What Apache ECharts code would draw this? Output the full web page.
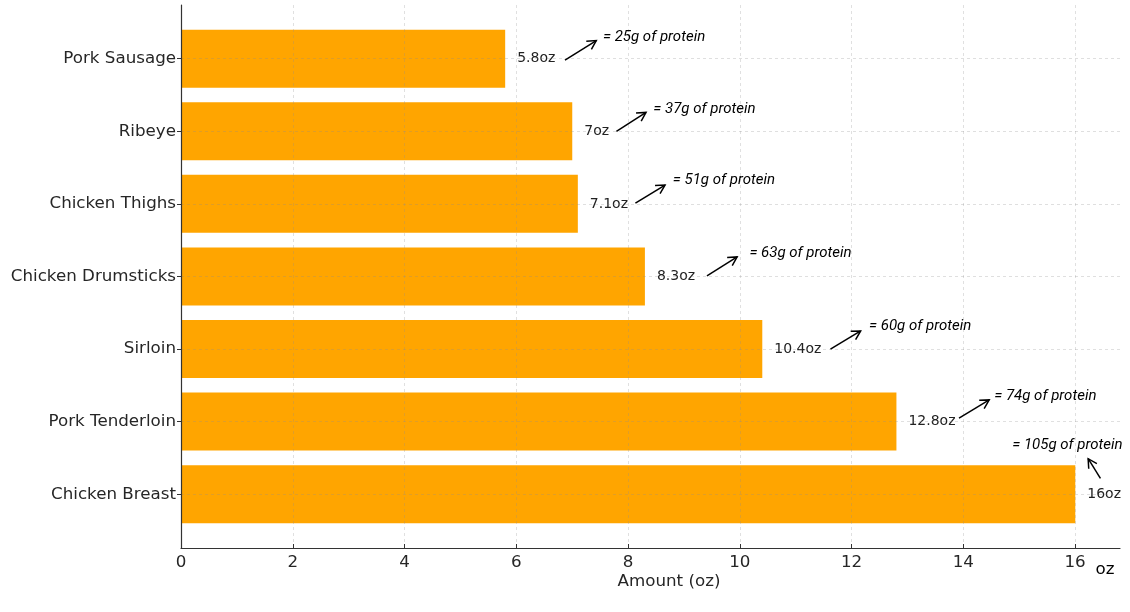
<!DOCTYPE html>
<html>
<head>
<meta charset="utf-8">
<script src="https://cdn.jsdelivr.net/npm/echarts@6/dist/echarts.min.js"></script>
<style>html,body{margin:0;padding:0;background:#fff}#c{width:1130px;height:612px}</style>
</head>
<body>
<div id="c"></div>
<script>
// ---- data ----
const categories = ['Pork Sausage', 'Ribeye', 'Chicken Thighs', 'Chicken Drumsticks', 'Sirloin', 'Pork Tenderloin', 'Chicken Breast'];
const ounces = [5.8, 7, 7.1, 8.3, 10.4, 12.8, 16];
const proteinGrams = [25, 37, 51, 63, 60, 74, 105];
const xTicks = [0, 2, 4, 6, 8, 10, 12, 14, 16];
// annotation anchors in data units (x = oz, y = category index)
const noteX = [7.55, 8.45, 8.80, 10.17, 12.31, 14.55, 15.86];
const noteY = [-0.30, 0.69, 1.68, 2.68, 3.68, 4.65, 5.32];
const tailX = [6.87, 7.79, 8.13, 9.41, 11.62, 13.92, 16.45];
const tailY = [0.02, 1.00, 1.99, 2.99, 4.00, 4.95, 5.78];
const headX = [7.43, 8.32, 8.66, 9.95, 12.16, 14.46, 16.23];
const headY = [-0.25, 0.74, 1.74, 2.73, 3.75, 4.70, 5.51];

const chart = echarts.init(document.getElementById('c'), null, {renderer: 'canvas'});
const FONT = 'DejaVu Sans';
const xMax = 16.8;
const GRID_COLOR = 'rgba(140,140,140,0.35)';

const option = {
  animation: false,
  backgroundColor: '#fff',
  grid: [
    {left: 181, right: 10, top: 5, bottom: 64},
    {left: 181, right: 10, top: 58.7, bottom: 117.8},
    {left: 181, right: 55, top: 5, bottom: 64}
  ],
  xAxis: [
    {gridIndex: 0, type: 'value', min: 0, max: xMax, z: 6,
     axisLine: {show: true, onZero: false, lineStyle: {color: '#333', width: 1.2}},
     axisTick: {show: false}, axisLabel: {show: false}, splitLine: {show: false}},
    {gridIndex: 1, type: 'value', min: 0, max: xMax, show: false},
    {gridIndex: 2, type: 'value', min: xTicks[0], max: xTicks[xTicks.length - 1], interval: 2, z: 5,
     axisLine: {show: false, onZero: false},
     axisTick: {show: true, inside: true, length: 4, lineStyle: {color: '#333'}},
     axisLabel: {show: true, margin: 6, fontSize: 16.7, fontFamily: FONT, color: '#262626'},
     splitLine: {show: true, lineStyle: {color: GRID_COLOR, type: [3, 3], width: 0.8}}}
  ],
  yAxis: [
    {gridIndex: 0, type: 'value', min: -0.74, max: 6.74, inverse: true, z: 6,
     axisLine: {show: true, onZero: false, lineStyle: {color: '#333', width: 1.2}},
     axisTick: {show: false}, axisLabel: {show: false}, splitLine: {show: false}},
    {gridIndex: 1, type: 'category', data: categories, inverse: true, boundaryGap: false, z: 5,
     axisLine: {show: false, onZero: false},
     axisTick: {show: true, length: 4, lineStyle: {color: '#333'}},
     axisLabel: {margin: 5, fontSize: 16.7, fontFamily: FONT, color: '#262626'},
     splitLine: {show: true, lineStyle: {color: GRID_COLOR, type: [3, 3], width: 0.8}}},
    {gridIndex: 2, type: 'value', show: false}
  ],
  graphic: [
    {type: 'text', x: 669, y: 582, style: {text: 'Amount (oz)', fontSize: 16.7, fontFamily: FONT, fill: '#262626', align: 'center', verticalAlign: 'middle'}},
    {type: 'text', x: 1105, y: 570, style: {text: 'oz', fontSize: 16.7, fontFamily: FONT, fill: '#000', align: 'center', verticalAlign: 'middle'}}
  ],
  series: [
    {
      type: 'bar', xAxisIndex: 1, yAxisIndex: 1, z: 2,
      data: ounces, barWidth: 58,
      itemStyle: {color: '#FFA500'},
      label: {show: true, position: 'right', distance: 12, fontSize: 14, fontFamily: FONT, color: '#222',
              formatter: p => p.value + 'oz'}
    },
    {
      type: 'custom', xAxisIndex: 0, yAxisIndex: 0, z: 7,
      data: noteX.map((x, i) => [x, noteY[i]]),
      renderItem: function (params, api) {
        const i = params.dataIndex;
        const t = api.coord([noteX[i], noteY[i]]);
        const a = api.coord([tailX[i], tailY[i]]);
        const b = api.coord([headX[i], headY[i]]);
        const ang = Math.atan2(b[1] - a[1], b[0] - a[0]);
        const L = 10, w = 0.5;
        const p1 = [b[0] - L * Math.cos(ang - w), b[1] - L * Math.sin(ang - w)];
        const p2 = [b[0] - L * Math.cos(ang + w), b[1] - L * Math.sin(ang + w)];
        return {
          type: 'group',
          children: [
            {type: 'line', shape: {x1: a[0], y1: a[1], x2: b[0], y2: b[1]}, style: {stroke: '#000', lineWidth: 1.5}},
            {type: 'polyline', shape: {points: [p1, b, p2]}, style: {stroke: '#000', fill: null, lineWidth: 1.5}},
            {type: 'text', x: t[0], y: t[1], style: {
              text: '= ' + proteinGrams[i] + 'g of protein',
              fontSize: 15, fontStyle: 'italic', fontFamily: 'Roboto', fill: '#000',
              align: i === categories.length - 1 ? 'center' : 'left', verticalAlign: 'middle'}}
          ]
        };
      }
    }
  ]
};
chart.setOption(option);
</script>
</body>
</html>
